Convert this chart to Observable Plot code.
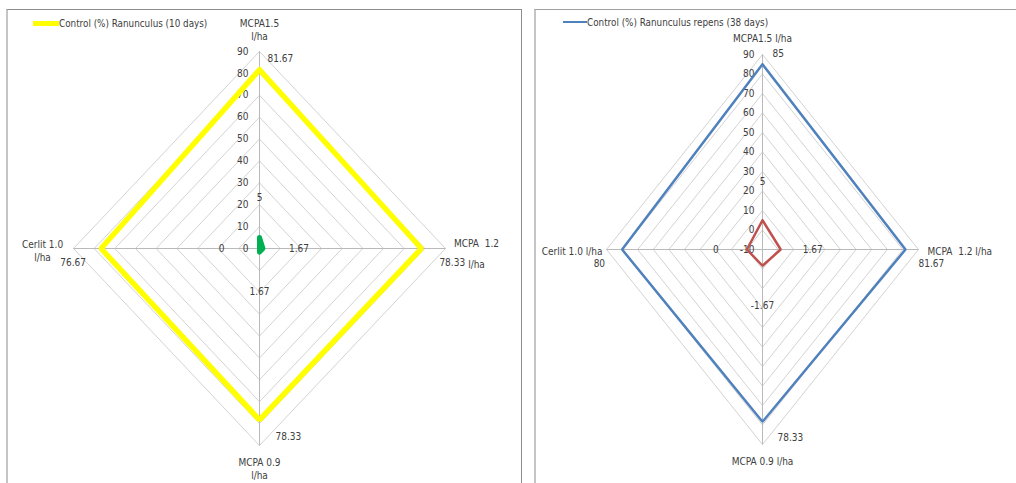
<!DOCTYPE html>
<html>
<head>
<meta charset="utf-8">
<script src="https://cdn.jsdelivr.net/npm/d3@7"></script>
<script src="https://cdn.jsdelivr.net/npm/@observablehq/plot@0.6"></script>
<style>
  html, body { margin: 0; padding: 0; background: #fff; }
  body { position: relative; width: 1016px; height: 483px; overflow: hidden;
         font-family: "Liberation Sans Narrow", "DejaVu Sans Condensed", "Liberation Sans", sans-serif; color: #404040; }
  .panel { position: absolute; top: 9px; height: 490px; box-sizing: border-box; }
  #panel-left { left: 6px; width: 516px; border-left: 2px solid #c4c4c4; border-top: 1px solid #8c8c8c; border-right: 1px solid #8c8c8c; }
  #panel-right { left: 534px; width: 500px; border-left: 2px solid #c4c4c4; border-top: 1px solid #a0a0a0; }
  .chart { position: absolute; left: 0; top: 0; }
  .legend { position: absolute; display: flex; align-items: center; font-size: 9.8px; white-space: nowrap; }
  .legend .swatch { display: inline-block; }
</style>
</head>
<body>
<div class="panel" id="panel-left"></div>
<div class="panel" id="panel-right"></div>
<div id="charts"></div>
<script>
// Axes of both radar charts, clockwise from the top
const axisDirections = [[0, 1], [1, 0], [0, -1], [-1, 0]];

// Ranunculus, 10 days after treatment
const leftAxisLabels = ["MCPA1.5\nl/ha", "MCPA  1.2\nl/ha", "MCPA 0.9\nl/ha", "Cerlit 1.0\nl/ha"];
const leftTicks = [0, 10, 20, 30, 40, 50, 60, 70, 80, 90];
const leftControl = [81.67, 78.33, 78.33, 76.67];
const leftSecond = [5, 1.67, 1.67, 0];
const leftLegend = "Control (%) Ranunculus (10 days)";

// Ranunculus repens, 38 days after treatment
const rightAxisLabels = ["MCPA1.5 l/ha", "MCPA  1.2 l/ha", "MCPA 0.9 l/ha", "Cerlit 1.0 l/ha"];
const rightTicks = [-10, 0, 10, 20, 30, 40, 50, 60, 70, 80, 90];
const rightControl = [85, 81.67, 78.33, 80];
const rightSecond = [5, 1.67, -1.67, 0];
const rightLegend = "Control (%) Ranunculus repens (38 days)";

const textColor = "#404040";
const fontSize = 10;

function radar({ticks, axisLabels, axisLabelPlacement, series, cx, cy, rx, ry, tickDx}) {
  const min = ticks[0];
  const max = ticks[ticks.length - 1];
  const R = max - min;
  const at = (i, v) => ({x: axisDirections[i][0] * (v - min), y: axisDirections[i][1] * (v - min), v});

  const rings = ticks.slice(1).flatMap(t => [0, 1, 2, 3, 0].map(i => ({ring: t, ...at(i, t)})));
  const spokes = axisDirections.map((d, i) => at(i, max));

  const marks = [
    Plot.line(rings, {x: "x", y: "y", z: "ring", stroke: "#d3d3d3", strokeWidth: 1}),
    Plot.link(spokes, {x1: 0, y1: 0, x2: "x", y2: "y", stroke: "#b9b9b9", strokeWidth: 1}),
    Plot.text(ticks, {x: 0, y: t => t - min, text: t => String(t), textAnchor: "end", dx: tickDx,
                      fill: textColor, fontSize})
  ];

  axisLabels.forEach((label, i) => {
    const p = axisLabelPlacement[i];
    marks.push(Plot.text([at(i, max)], {x: "x", y: "y", text: () => label, dx: p.dx, dy: p.dy,
      textAnchor: p.anchor, lineAnchor: p.line, lineHeight: p.lh || 1.3, fill: textColor, fontSize}));
  });

  for (const s of series) {
    const pts = [0, 1, 2, 3, 0].map(i => at(i, s.values[i]));
    marks.push(Plot.line(pts, {x: "x", y: "y", stroke: s.color, strokeWidth: s.width,
      strokeLinejoin: s.join || "miter", strokeLinecap: "round"}));
    s.values.forEach((v, i) => {
      const o = s.labels[i];
      marks.push(Plot.text([at(i, v)], {x: "x", y: "y", text: d => String(d.v), dx: o[0], dy: o[1],
        textAnchor: o[2] || "middle", fill: textColor, fontSize}));
    });
  }

  return Plot.plot({
    width: 1016, height: 483,
    x: {domain: [-R, R], range: [cx - rx, cx + rx], axis: null},
    y: {domain: [-R, R], range: [cy + ry, cy - ry], axis: null},
    style: {background: "transparent", fontFamily: "inherit", overflow: "visible"},
    marks
  });
}

const left = radar({
  ticks: leftTicks, axisLabels: leftAxisLabels,
  cx: 259, cy: 248, rx: 186, ry: 197, tickDx: -11,
  axisLabelPlacement: [
    {dx: 0, dy: -12, anchor: "middle", line: "bottom"},
    {dx: 31, dy: 2, anchor: "middle", line: "middle", lh: 2.1},
    {dx: 0, dy: 11, anchor: "middle", line: "top"},
    {dx: -31, dy: 2, anchor: "middle", line: "middle"}
  ],
  series: [
    {values: leftControl, color: "#ffff00", width: 5.5,
     labels: [[8, -11, "start"], [18, 14, "start"], [16, 17, "start"], [-15, 14, "end"]]},
    {values: leftSecond, color: "#00b050", width: 5, join: "round",
     labels: [[0, -40], [36, 0], [0, 40], [-38, 0]]}
  ]
});

const right = radar({
  ticks: rightTicks, axisLabels: rightAxisLabels,
  cx: 762, cy: 249, rx: 156, ry: 195, tickDx: -8,
  axisLabelPlacement: [
    {dx: 0, dy: -17, anchor: "middle", line: "middle"},
    {dx: 9, dy: 1, anchor: "start", line: "middle"},
    {dx: 0, dy: 16, anchor: "middle", line: "middle"},
    {dx: -4, dy: 1, anchor: "end", line: "middle"}
  ],
  series: [
    {values: rightControl, color: "#4f81bd", width: 2.5,
     labels: [[10, -10, "start"], [13, 14, "start"], [15, 16, "start"], [-17, 14, "end"]]},
    {values: rightSecond, color: "#c0504d", width: 2.5,
     labels: [[0, -38], [32, 0], [0, 40], [-31, 0]]}
  ]
});

const charts = document.getElementById("charts");
for (const svg of [left, right]) {
  svg.classList.add("chart");
  svg.style.position = "absolute";
  svg.style.left = "0px";
  svg.style.top = "0px";
  charts.appendChild(svg);
}

function legend(text, color, thickness, x, y, swatchWidth) {
  const div = document.createElement("div");
  div.className = "legend";
  div.style.left = x + "px";
  div.style.top = (y - 7) + "px";
  div.style.height = "14px";
  const sw = document.createElement("span");
  sw.className = "swatch";
  sw.style.width = swatchWidth + "px";
  sw.style.height = thickness + "px";
  sw.style.background = color;
  const label = document.createElement("span");
  label.textContent = text;
  div.append(sw, label);
  document.body.appendChild(div);
}
legend(leftLegend, "#ffff00", 5, 33, 23, 26);
legend(rightLegend, "#4f81bd", 2.5, 563, 22, 24);
</script>
</body>
</html>
